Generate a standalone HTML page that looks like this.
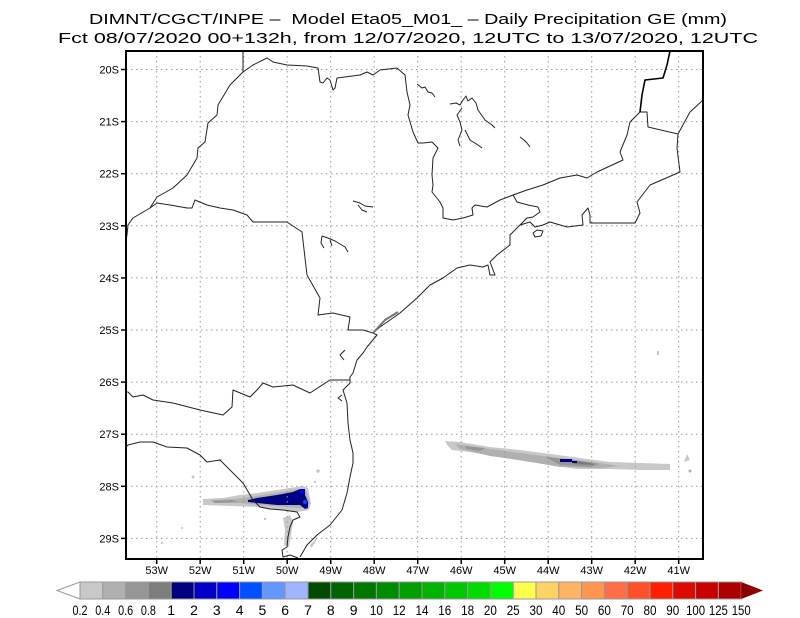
<!DOCTYPE html>
<html><head><meta charset="utf-8"><style>
html,body{margin:0;padding:0;background:#fff;}
svg{display:block;}
text{font-family:"Liberation Sans",sans-serif;fill:#000;}
</style></head><body>
<svg width="800" height="618" viewBox="0 0 800 618" xmlns="http://www.w3.org/2000/svg">
<rect width="800" height="618" fill="#fff"/>
<!-- titles -->
<text x="89" y="24" font-size="15" textLength="638" lengthAdjust="spacingAndGlyphs" style="white-space:pre">DIMNT/CGCT/INPE –  Model Eta05_M01_ – Daily Precipitation GE (mm)</text>
<text x="58" y="43" font-size="15" textLength="700" lengthAdjust="spacingAndGlyphs">Fct 08/07/2020 00+132h, from 12/07/2020, 12UTC to 13/07/2020, 12UTC</text>

<!-- precipitation shading -->
<g stroke="none">
<polygon fill="#c8c8c8" points="445,441 460,442 490,447 520,450 543,453 580,458 610,462 640,463 670,464 670,470 640,470 610,469 577,469 543,464 510,459 493,456 470,452 452,450 448,446"/>
<polygon fill="#b0b0b0" points="455,444 490,449 543,456 600,463 620,466 600,468 560,467 520,460 490,456 460,449"/>
<polygon fill="#969696" points="465,446 485,448 480,451 466,449"/>
<polygon fill="#969696" points="545,457 575,460 600,464 590,467 560,465"/>
<polygon fill="#787878" points="568,460 590,463 595,465 575,464"/>
<rect x="560" y="459" width="12" height="3" fill="#000080"/>
<rect x="572" y="461" width="5" height="2" fill="#000080"/>
<rect x="657" y="351" width="2" height="4" fill="#c8c8c8"/>
<polygon fill="#c8c8c8" points="687,454 690,460 684,462"/>
<circle cx="690" cy="471" r="1.5" fill="#b0b0b0"/>

<polygon fill="#c8c8c8" points="203,499 223,498 240,495 257,493 290,488 303,486 308,488 311,503 309,510 297,512 283,510 257,507 230,506 203,505"/>
<polygon fill="#b0b0b0" points="210,500 235,499 250,497 300,489 306,490 310,504 300,508 260,505 240,503 215,503"/>
<polygon fill="#969696" points="212,501 232,500 238,502 215,503"/>
<polygon fill="#000080" points="248,500 257,498 277,495 293,492 300,489 305,489 305,495 308,502 308,508 305,509 300,505 290,505 277,505 257,503 248,502"/>
<circle cx="302" cy="492" r="2" fill="#0000ff"/>
<circle cx="305" cy="502" r="2" fill="#0050ff"/>
<circle cx="296" cy="497" r="1.5" fill="#0000c8"/>
<circle cx="290" cy="499" r="1" fill="#0000c8"/>
<polygon fill="#c8c8c8" points="283,518 290,515 293,522 291,535 289,547 284,545 285,530"/>
<circle cx="193" cy="477" r="1.5" fill="#c8c8c8"/>
<circle cx="220" cy="460" r="1.5" fill="#c8c8c8"/>
<circle cx="318" cy="471" r="1.8" fill="#c8c8c8"/>
<circle cx="315" cy="482" r="1.2" fill="#c8c8c8"/>
<circle cx="265" cy="519" r="1.2" fill="#c8c8c8"/>
<circle cx="182" cy="528" r="1" fill="#c8c8c8"/>
<circle cx="162" cy="543" r="1.2" fill="#c8c8c8"/>
<polygon fill="#c8c8c8" points="310,545 318,537 315,543 311,548"/>
</g>

<!-- gridlines -->
<g stroke="#9a9a9a" stroke-width="1" stroke-dasharray="1.5,3.5" fill="none">
<line x1="126" y1="69.5" x2="703" y2="69.5"/>
<line x1="126" y1="121.6" x2="703" y2="121.6"/>
<line x1="126" y1="173.7" x2="703" y2="173.7"/>
<line x1="126" y1="225.8" x2="703" y2="225.8"/>
<line x1="126" y1="277.9" x2="703" y2="277.9"/>
<line x1="126" y1="330" x2="703" y2="330"/>
<line x1="126" y1="382.1" x2="703" y2="382.1"/>
<line x1="126" y1="434.2" x2="703" y2="434.2"/>
<line x1="126" y1="486.3" x2="703" y2="486.3"/>
<line x1="126" y1="538.4" x2="703" y2="538.4"/>
<line x1="156.7" y1="51" x2="156.7" y2="559"/>
<line x1="200.2" y1="51" x2="200.2" y2="559"/>
<line x1="243.7" y1="51" x2="243.7" y2="559"/>
<line x1="287.2" y1="51" x2="287.2" y2="559"/>
<line x1="330.7" y1="51" x2="330.7" y2="559"/>
<line x1="374.2" y1="51" x2="374.2" y2="559"/>
<line x1="417.7" y1="51" x2="417.7" y2="559"/>
<line x1="461.2" y1="51" x2="461.2" y2="559"/>
<line x1="504.7" y1="51" x2="504.7" y2="559"/>
<line x1="548.2" y1="51" x2="548.2" y2="559"/>
<line x1="591.7" y1="51" x2="591.7" y2="559"/>
<line x1="635.2" y1="51" x2="635.2" y2="559"/>
<line x1="678.7" y1="51" x2="678.7" y2="559"/>
</g>

<!-- map lines -->
<g stroke="#222" stroke-width="1" fill="none" stroke-linejoin="round">
<polyline points="243,51 243,72 230,85 218,105 217,115 208,123 205,142 198,148 197,158 187,175 173,188 157,197 150,208 133,218 128,225 127,235 126,240"/>
<polyline points="243,72 253,65 267,58 273,62 287,65 307,66 318,68 320,82 323,83 327,78 330,80 333,90 335,88 337,78 360,75 367,72 373,75 380,70 397,68 405,75 407,92 410,105 408,115 413,132 418,143 423,143 432,142 438,148 433,158 432,175 433,185 432,192 440,202 443,208 443,218 453,220 463,218 473,215 472,208 475,205 487,207 500,200 513,195 527,190 543,185 560,178 577,175 587,178 597,172 623,160 620,152 627,135 630,122 640,112 647,112 648,127 678,134"/>
<polyline stroke="#000" stroke-width="1.6" points="670,51 667,65 663,78 645,80 642,95 640,112"/>
<polyline points="703,100 690,112 678,134 677,148 680,172 650,185 637,202 640,213 635,223 590,223 590,215 588,208 582,215 583,225 567,227 550,222 543,225 535,227 530,222 520,225 510,235 510,245 497,255 490,262 495,275 490,275 488,265 483,267 470,265 457,268 443,278 430,285 417,298 400,313 380,327 373,333 377,335 367,347 363,353 357,360 353,373 350,377 350,383 343,390 347,403 348,423 350,440 353,453 353,463 350,477 347,493 342,510 330,525 317,535 307,545 300,557"/>
<polyline points="513,195 517,202 528,205 538,207 540,212 533,217 527,218 520,225"/>
<polyline points="150,208 157,203 170,205 187,208 192,208 195,200 207,205 220,208 233,210 247,215 253,222 267,222 287,222 302,232 305,258 307,275 320,298 318,315 333,313 350,317 348,330 363,330 373,333"/>
<polyline points="350,380 330,380 310,393 293,385 273,387 263,383 257,390 250,397 233,390 232,407 223,415 200,410 173,403 153,400 143,395 133,397 128,392 126,392"/>
<polyline points="126,447 128,445 140,442 153,442 167,447 187,448 200,455 207,462 220,460 230,470 243,483 253,500 260,507 270,509 283,510 297,512 300,517 293,520 290,527 288,537 287,547 282,550 283,557 290,555 298,558"/>
<polyline points="373,333 385,320 398,312" stroke="#777" stroke-width="2"/>
<polygon points="533,233 537,230 543,231 541,236 535,237"/>
<polyline points="417,84 422,88 425,87 428,92 432,93 435,97"/>
<polyline points="450,104 456,103 460,105 463,100 466,96 468,101 472,98 476,103 478,110 485,120 492,125 495,128"/>
<polyline points="462,108 457,115 460,122 462,130 458,140 460,146"/>
<polyline points="465,130 470,140 478,145 482,148"/>
<polyline points="520,137 524,140 527,143 530,147"/>
<polyline points="353,201 360,203 365,206 373,207"/>
<polyline points="358,205 362,210 367,212"/>
<polyline points="322,236 328,238 335,241 340,244 345,247 348,252"/>
<polyline points="322,236 321,243 324,248"/>
<polyline points="330,240 332,246"/>
<polyline points="345,350 340,355 344,360"/>
<polyline points="342,395 338,398 342,401"/>
</g>

<!-- frame -->
<rect x="126" y="51" width="577" height="508" fill="none" stroke="#000" stroke-width="2"/>

<!-- ticks -->
<g stroke="#000" stroke-width="1.5">
<line x1="121" y1="69.5" x2="126" y2="69.5"/>
<line x1="121" y1="121.6" x2="126" y2="121.6"/>
<line x1="121" y1="173.7" x2="126" y2="173.7"/>
<line x1="121" y1="225.8" x2="126" y2="225.8"/>
<line x1="121" y1="277.9" x2="126" y2="277.9"/>
<line x1="121" y1="330" x2="126" y2="330"/>
<line x1="121" y1="382.1" x2="126" y2="382.1"/>
<line x1="121" y1="434.2" x2="126" y2="434.2"/>
<line x1="121" y1="486.3" x2="126" y2="486.3"/>
<line x1="121" y1="538.4" x2="126" y2="538.4"/>
<line x1="156.7" y1="559" x2="156.7" y2="564"/>
<line x1="200.2" y1="559" x2="200.2" y2="564"/>
<line x1="243.7" y1="559" x2="243.7" y2="564"/>
<line x1="287.2" y1="559" x2="287.2" y2="564"/>
<line x1="330.7" y1="559" x2="330.7" y2="564"/>
<line x1="374.2" y1="559" x2="374.2" y2="564"/>
<line x1="417.7" y1="559" x2="417.7" y2="564"/>
<line x1="461.2" y1="559" x2="461.2" y2="564"/>
<line x1="504.7" y1="559" x2="504.7" y2="564"/>
<line x1="548.2" y1="559" x2="548.2" y2="564"/>
<line x1="591.7" y1="559" x2="591.7" y2="564"/>
<line x1="635.2" y1="559" x2="635.2" y2="564"/>
<line x1="678.7" y1="559" x2="678.7" y2="564"/>
</g>

<!-- lat labels -->
<g font-size="11" text-anchor="end">
<text x="119" y="73.5">20S</text>
<text x="119" y="125.6">21S</text>
<text x="119" y="177.7">22S</text>
<text x="119" y="229.8">23S</text>
<text x="119" y="281.9">24S</text>
<text x="119" y="334">25S</text>
<text x="119" y="386.1">26S</text>
<text x="119" y="438.2">27S</text>
<text x="119" y="490.3">28S</text>
<text x="119" y="542.4">29S</text>
</g>
<!-- lon labels -->
<g font-size="11" text-anchor="middle">
<text x="156.7" y="574">53W</text>
<text x="200.2" y="574">52W</text>
<text x="243.7" y="574">51W</text>
<text x="287.2" y="574">50W</text>
<text x="330.7" y="574">49W</text>
<text x="374.2" y="574">48W</text>
<text x="417.7" y="574">47W</text>
<text x="461.2" y="574">46W</text>
<text x="504.7" y="574">45W</text>
<text x="548.2" y="574">44W</text>
<text x="591.7" y="574">43W</text>
<text x="635.2" y="574">42W</text>
<text x="678.7" y="574">41W</text>
</g>

<!-- colorbar -->
<g stroke="#999" stroke-width="1">
<polygon points="57,590.5 80,582 80,599" fill="#fff"/>
<rect x="80.0" y="582" width="22.8" height="17" fill="#c8c8c8"/>
<rect x="102.8" y="582" width="22.8" height="17" fill="#b0b0b0"/>
<rect x="125.6" y="582" width="22.8" height="17" fill="#969696"/>
<rect x="148.4" y="582" width="22.8" height="17" fill="#7d7d7d"/>
<rect x="171.2" y="582" width="22.8" height="17" fill="#000080"/>
<rect x="194.0" y="582" width="22.8" height="17" fill="#0000c8"/>
<rect x="216.8" y="582" width="22.8" height="17" fill="#0000ff"/>
<rect x="239.6" y="582" width="22.8" height="17" fill="#0050ff"/>
<rect x="262.4" y="582" width="22.8" height="17" fill="#6496ff"/>
<rect x="285.2" y="582" width="22.8" height="17" fill="#a0b4ff"/>
<rect x="308.0" y="582" width="22.8" height="17" fill="#004b00"/>
<rect x="330.8" y="582" width="22.8" height="17" fill="#006400"/>
<rect x="353.6" y="582" width="22.8" height="17" fill="#007800"/>
<rect x="376.4" y="582" width="22.8" height="17" fill="#008c00"/>
<rect x="399.2" y="582" width="22.8" height="17" fill="#00a000"/>
<rect x="422.0" y="582" width="22.8" height="17" fill="#00b400"/>
<rect x="444.8" y="582" width="22.8" height="17" fill="#00c800"/>
<rect x="467.6" y="582" width="22.8" height="17" fill="#00dc00"/>
<rect x="490.4" y="582" width="22.8" height="17" fill="#00ff00"/>
<rect x="513.2" y="582" width="22.8" height="17" fill="#ffff50"/>
<rect x="536.0" y="582" width="22.8" height="17" fill="#ffd264"/>
<rect x="558.8" y="582" width="22.8" height="17" fill="#ffb464"/>
<rect x="581.6" y="582" width="22.8" height="17" fill="#ff9650"/>
<rect x="604.4" y="582" width="22.8" height="17" fill="#ff6e46"/>
<rect x="627.2" y="582" width="22.8" height="17" fill="#ff5028"/>
<rect x="650.0" y="582" width="22.8" height="17" fill="#ff1e00"/>
<rect x="672.8" y="582" width="22.8" height="17" fill="#dc0a00"/>
<rect x="695.6" y="582" width="22.8" height="17" fill="#c80000"/>
<rect x="718.4" y="582" width="22.8" height="17" fill="#af0000"/>
<polygon points="741.2,582 763,590.5 741.2,599" fill="#8c0000" stroke="none"/>
</g>
<g font-size="14" text-anchor="middle">
<text x="80.0" y="615" textLength="15" lengthAdjust="spacingAndGlyphs">0.2</text>
<text x="102.8" y="615" textLength="15" lengthAdjust="spacingAndGlyphs">0.4</text>
<text x="125.6" y="615" textLength="15" lengthAdjust="spacingAndGlyphs">0.6</text>
<text x="148.4" y="615" textLength="15" lengthAdjust="spacingAndGlyphs">0.8</text>
<text x="171.2" y="615">1</text>
<text x="194.0" y="615">2</text>
<text x="216.8" y="615">3</text>
<text x="239.6" y="615">4</text>
<text x="262.4" y="615">5</text>
<text x="285.2" y="615">6</text>
<text x="308.0" y="615">7</text>
<text x="330.8" y="615">8</text>
<text x="353.6" y="615">9</text>
<text x="376.4" y="615" textLength="13" lengthAdjust="spacingAndGlyphs">10</text>
<text x="399.2" y="615" textLength="13" lengthAdjust="spacingAndGlyphs">12</text>
<text x="422.0" y="615" textLength="13" lengthAdjust="spacingAndGlyphs">14</text>
<text x="444.8" y="615" textLength="13" lengthAdjust="spacingAndGlyphs">16</text>
<text x="467.6" y="615" textLength="13" lengthAdjust="spacingAndGlyphs">18</text>
<text x="490.4" y="615" textLength="13" lengthAdjust="spacingAndGlyphs">20</text>
<text x="513.2" y="615" textLength="13" lengthAdjust="spacingAndGlyphs">25</text>
<text x="536.0" y="615" textLength="13" lengthAdjust="spacingAndGlyphs">30</text>
<text x="558.8" y="615" textLength="13" lengthAdjust="spacingAndGlyphs">40</text>
<text x="581.6" y="615" textLength="13" lengthAdjust="spacingAndGlyphs">50</text>
<text x="604.4" y="615" textLength="13" lengthAdjust="spacingAndGlyphs">60</text>
<text x="627.2" y="615" textLength="13" lengthAdjust="spacingAndGlyphs">70</text>
<text x="650.0" y="615" textLength="13" lengthAdjust="spacingAndGlyphs">80</text>
<text x="672.8" y="615" textLength="13" lengthAdjust="spacingAndGlyphs">90</text>
<text x="695.6" y="615" textLength="19" lengthAdjust="spacingAndGlyphs">100</text>
<text x="718.4" y="615" textLength="19" lengthAdjust="spacingAndGlyphs">125</text>
<text x="741.2" y="615" textLength="19" lengthAdjust="spacingAndGlyphs">150</text>
</g>
</svg>
</body></html>
